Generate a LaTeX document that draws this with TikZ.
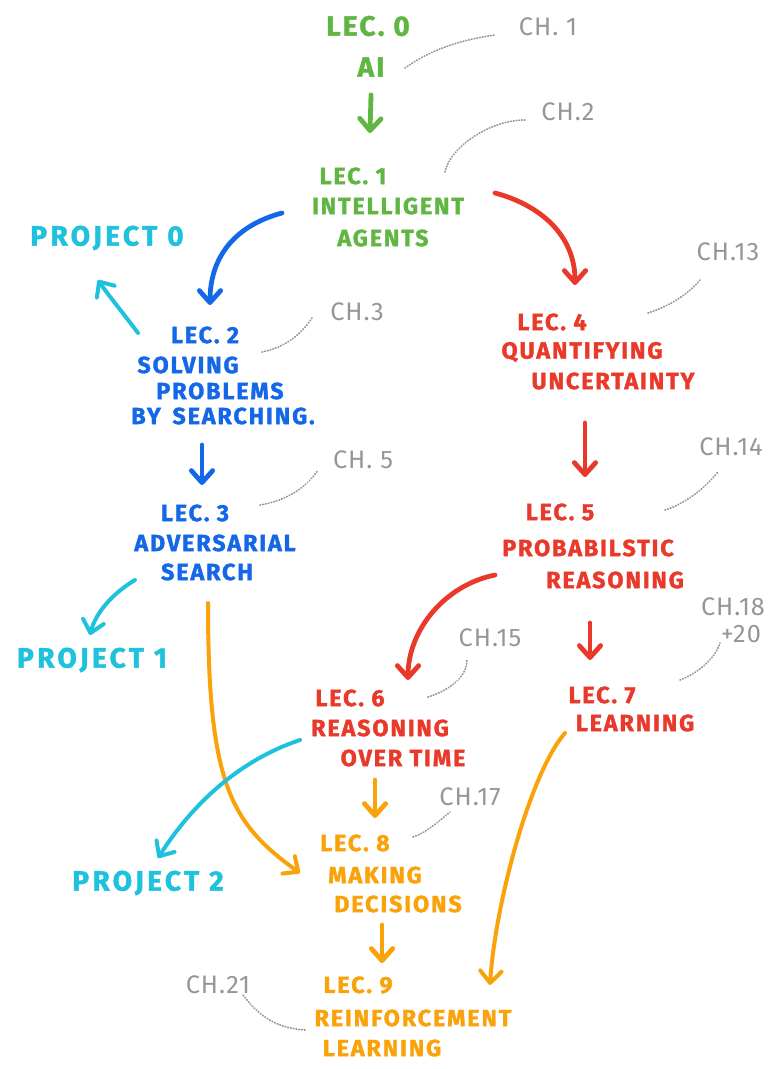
\documentclass[tikz,border=0pt]{standalone}
\usepackage{fontspec}
\setmainfont{Fira Sans}[FakeBold=1.5]
\newfontfamily\handfont{Fira Sans}[FakeBold=1.5, LetterSpace=8]
\newfontfamily\projfont{Fira Sans}[FakeBold=1.5, LetterSpace=12]
\newfontfamily\chapfont{Fira Sans}[LetterSpace=4]
\usetikzlibrary{arrows.meta}

\definecolor{cgreen}{RGB}{96,182,67}
\definecolor{cblue}{RGB}{20,104,232}
\definecolor{ccyan}{RGB}{30,194,220}
\definecolor{cred}{RGB}{233,57,42}
\definecolor{corange}{RGB}{250,162,10}
\definecolor{cgray}{RGB}{150,150,150}

\tikzset{
  lbl/.style={inner sep=0pt, font=\handfont\fontsize{17.5}{19}\selectfont\bfseries},
  big/.style={inner sep=0pt, font=\handfont\fontsize{21}{23}\selectfont\bfseries},
  proj/.style={inner sep=0pt, text=ccyan, font=\projfont\fontsize{21}{23}\selectfont\bfseries},
  chap/.style={inner sep=0pt, text=cgray, font=\chapfont\fontsize{19}{20}\selectfont},
  arr/.style={line width=3.6pt, line cap=round,
    -{Straight Barb[round, length=9pt, width=16pt]}},
  thinarr/.style={arr, line width=3pt},
  dots/.style={cgray, line width=1.3pt, dash pattern=on 0.5pt off 1.6pt, line cap=round},
}

\begin{document}
\begin{tikzpicture}[x=0.75pt, y=-0.75pt]
\useasboundingbox (0,0) rectangle (767,1069);

% ---- lecture labels ----
\node[big, text=cgreen] (lec0) at (368,26) {LEC. 0};
\node[big, text=cgreen] (ai)   at (371,67) {AI};

\node[lbl, text=cgreen] (lec1)  at (353,176) {LEC. 1};
\node[lbl, text=cgreen] (lec1a) at (388,206) {INTELLIGENT};
\node[lbl, text=cgreen] (lec1b) at (383,238) {AGENTS};

\node[proj] (proj0) at (107,238) {PROJECT 0};

\node[lbl, text=cblue] (lec2)  at (205,335) {LEC. 2};
\node[lbl, text=cblue] (lec2a) at (188,365) {SOLVING};
\node[lbl, text=cblue] (lec2b) at (220,391) {PROBLEMS};
\node[lbl, text=cblue] (lec2c) at (223,416) {BY\enspace SEARCHING.};

\node[lbl, text=cblue] (lec3)  at (195,513) {LEC. 3};
\node[lbl, text=cblue] (lec3a) at (215,543) {ADVERSARIAL};
\node[lbl, text=cblue] (lec3b) at (207,572) {SEARCH};

\node[proj] (proj1) at (92,660) {PROJECT 1};

\node[lbl, text=cred] (lec4)  at (552,322) {LEC. 4};
\node[lbl, text=cred] (lec4a) at (582,352) {QUANTIFYING};
\node[lbl, text=cred] (lec4b) at (613,381) {UNCERTAINTY};

\node[lbl, text=cred] (lec5)  at (560,512) {LEC. 5};
\node[lbl, text=cred] (lec5a) at (588,548) {PROBABILSTIC};
\node[lbl, text=cred] (lec5b) at (615,580) {REASONING};

\node[lbl, text=cred] (lec6)  at (350,698) {LEC. 6};
\node[lbl, text=cred] (lec6a) at (380,728) {REASONING};
\node[lbl, text=cred] (lec6b) at (403,758) {OVER TIME};

\node[lbl, text=cred] (lec7)  at (602,695) {LEC. 7};
\node[lbl, text=cred] (lec7a) at (635,723) {LEARNING};

\node[proj] (proj2) at (148,883) {PROJECT 2};

\node[lbl, text=corange] (lec8)  at (355,843) {LEC. 8};
\node[lbl, text=corange] (lec8a) at (375,875) {MAKING};
\node[lbl, text=corange] (lec8b) at (398,904) {DECISIONS};

\node[lbl, text=corange] (lec9)  at (358,985) {LEC. 9};
\node[lbl, text=corange] (lec9a) at (413,1018) {REINFORCEMENT};
\node[lbl, text=corange] (lec9b) at (382,1048) {LEARNING};

% ---- chapter references ----
\node[chap] (ch1)  at (548,27)  {CH. 1};
\node[chap] (ch2)  at (568,112) {CH.2};
\node[chap] (ch3)  at (357,312) {CH.3};
\node[chap] (ch5)  at (363,460) {CH. 5};
\node[chap] (ch13) at (728,252) {CH.13};
\node[chap] (ch14) at (731,447) {CH.14};
\node[chap] (ch15) at (490,638) {CH.15};
\node[chap] (ch18) at (733,607) {CH.18};
\node[chap] (ch18b) at (741,634) {+20};
\node[chap] (ch17) at (470,797) {CH.17};
\node[chap] (ch21) at (218,985) {CH.21};

% ---- dotted chapter links ----
\draw[dots] ([shift={(34,1)}]ai.center)   .. controls +(25,-18) and +(-35,5) .. ([shift={(-53,8)}]ch1.center);
\draw[dots] ([shift={(92,-4)}]lec1.center) .. controls +(5,-25) and +(-35,0) .. ([shift={(-43,8)}]ch2.center);
\draw[dots] ([shift={(57,17)}]lec2.center) .. controls +(25,-5) and +(-10,15) .. ([shift={(-45,6)}]ch3.center);
\draw[dots] ([shift={(65,-8)}]lec3.center) .. controls +(30,-5) and +(-10,15) .. ([shift={(-45,10)}]ch5.center);
\draw[dots] ([shift={(96,-9)}]lec4.center) .. controls +(25,-8) and +(-10,12) .. ([shift={(-28,28)}]ch13.center);
\draw[dots] ([shift={(105,-2)}]lec5.center) .. controls +(25,-8) and +(-10,12) .. ([shift={(-13,25)}]ch14.center);
\draw[dots] ([shift={(78,-1)}]lec6.center) .. controls +(25,-8) and +(0,15) .. ([shift={(-23,22)}]ch15.center);
\draw[dots] ([shift={(78,-15)}]lec7.center) .. controls +(20,-8) and +(-5,15) .. ([shift={(-21,9)}]ch18b.center);
\draw[dots] ([shift={(58,-6)}]lec8.center) .. controls +(15,-5) and +(-10,8) .. ([shift={(-20,15)}]ch17.center);
\draw[dots] ([shift={(-108,12)}]lec9a.center) .. controls +(-30,-2) and +(15,20) .. ([shift={(25,10)}]ch21.center);

% ---- green ----
\draw[arr, cgreen] ([shift={(0,28)}]ai.center) -- ([shift={(17,-43)}]lec1.center);

% ---- from lecture 1 ----
\draw[arr, cred]  ([shift={(107,-13)}]lec1a.center) .. controls +(45,12) and +(0,-50) .. ([shift={(23,-37)}]lec4.center);
\draw[arr, cblue] ([shift={(-106,7)}]lec1a.center) .. controls +(-45,12) and +(0,-50) .. ([shift={(5,-30)}]lec2.center);

% ---- blue branch ----
\draw[thinarr, ccyan] ([shift={(-50,-32)}]lec2a.center) .. controls +(-15,-20) and +(8,12) .. ([shift={(-9,42)}]proj0.center);
\draw[arr, cblue] ([shift={(-21,29)}]lec2c.center) -- ([shift={(7,-28)}]lec3.center);
\draw[thinarr, ccyan] ([shift={(-72,8)}]lec3b.center) .. controls +(-25,15) and +(5,-20) .. ([shift={(-2,-25)}]proj1.center);
\draw[thinarr, corange] ([shift={(1,31)}]lec3b.center) .. controls +(0,180) and +(-70,-50) .. ([shift={(-75,-2)}]lec8a.center);

% ---- red branch ----
\draw[arr, cred] ([shift={(-28,42)}]lec4b.center) -- ([shift={(25,-35)}]lec5.center);
\draw[arr, cred] ([shift={(-120,-5)}]lec5b.center) .. controls +(-50,10) and +(0,-50) .. ([shift={(58,-18)}]lec6.center);
\draw[arr, cred] ([shift={(-25,43)}]lec5b.center) -- ([shift={(-12,-35)}]lec7.center);

% ---- orange ----
\draw[arr, corange] ([shift={(-28,22)}]lec6b.center) -- ([shift={(20,-25)}]lec8.center);
\draw[arr, corange] ([shift={(-16,21)}]lec8b.center) -- ([shift={(24,-22)}]lec9.center);
\draw[thinarr, corange] ([shift={(-70,10)}]lec7a.center) .. controls +(-35,40) and +(5,-80) .. ([shift={(77,-33)}]lec9a.center);
\draw[thinarr, ccyan] ([shift={(-80,12)}]lec6a.center) .. controls +(-60,20) and +(35,-55) .. ([shift={(10,-25)}]proj2.center);

\end{tikzpicture}
\end{document}
